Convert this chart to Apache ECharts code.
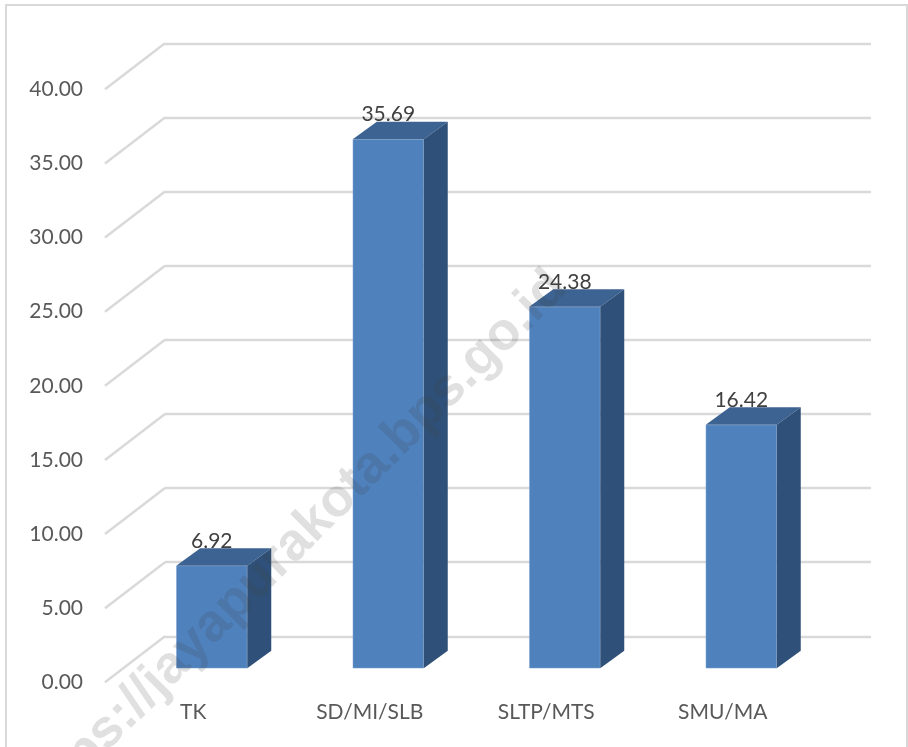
<!DOCTYPE html>
<html><head><meta charset="utf-8">
<style>html,body{margin:0;padding:0;background:#fff}#c{width:908px;height:747px}</style>
<script src="https://cdn.jsdelivr.net/npm/echarts@6/dist/echarts.min.js"></script>
</head><body><div id="c"></div>
<script>
const categories = ['TK', 'SD/MI/SLB', 'SLTP/MTS', 'SMU/MA'];
const values = [6.92, 35.69, 24.38, 16.42];
const yTicks = [0, 5, 10, 15, 20, 25, 30, 35, 40];
const watermark = 'https://jayapurakota.bps.go.id';

const FONT = 'Lato, "Open Sans", sans-serif';
const GRID = '#d9d9d9';
const chart = echarts.init(document.getElementById('c'), null, {renderer: 'canvas'});
const plain = {axisLine: {show: false}, axisTick: {show: false}, axisLabel: {show: false}, splitLine: {show: false}};
const yScale = {type: 'value', min: 0, max: 40, interval: 5};
const BAR_W = 71, DX = 24, DY = 17.5;

chart.setOption({
  animation: false,
  backgroundColor: '#fff',
  grid: [
    {left: 105, width: 706, top: 89.3, height: 593},   // front plane: axis labels
    {left: 165, width: 706, top: 43.3, height: 593},   // back plane: gridlines
    {left: 123.5, width: 706, top: 75.3, height: 593}  // bar plane
  ],
  xAxis: [
    {gridIndex: 0, type: 'category', data: categories, ...plain,
      axisLabel: {show: true, color: '#595959', fontFamily: FONT, fontSize: 21, margin: 19}},
    {gridIndex: 1, type: 'category', data: categories, ...plain},
    {gridIndex: 2, type: 'category', data: categories, ...plain}
  ],
  yAxis: [
    {gridIndex: 0, ...yScale, ...plain,
      axisLabel: {show: true, color: '#595959', fontFamily: FONT, fontSize: 21, margin: 22,
        formatter: v => v.toFixed(2)}},
    {gridIndex: 1, ...yScale, ...plain, splitLine: {show: true, lineStyle: {color: GRID, width: 2.4}}},
    {gridIndex: 2, ...yScale, ...plain}
  ],
  series: [
    {
      type: 'custom', xAxisIndex: 0, yAxisIndex: 0, z: 1, silent: true,
      data: yTicks.map(v => [0, v]),
      renderItem(params, api) {
        const y = api.coord([0, api.value(1)])[1];
        const x = params.coordSys.x;
        return {type: 'line', shape: {x1: x, y1: y, x2: x + 60, y2: y - 46},
          style: {stroke: GRID, lineWidth: 2.4, fill: null}};
      }
    },
    {
      type: 'bar', xAxisIndex: 2, yAxisIndex: 2, z: 2, barWidth: BAR_W,
      data: values,
      itemStyle: {color: '#4f81bd', borderColor: '#7ba0d0', borderWidth: 0.5},
      label: {show: true, position: 'top', distance: 14, color: '#404040', fontFamily: FONT, fontSize: 21,
        formatter: p => p.value.toFixed(2)}
    },
    {
      type: 'custom', xAxisIndex: 2, yAxisIndex: 2, z: 3, silent: true,
      data: values.map((v, i) => [i, v]),
      renderItem(params, api) {
        const top = api.coord([api.value(0), api.value(1)]);
        const base = api.coord([api.value(0), 0]);
        const l = top[0] - BAR_W / 2, r = top[0] + BAR_W / 2, t = top[1], b = base[1];
        return {type: 'group', children: [
          {type: 'polygon', shape: {points: [[l, t], [r, t], [r + DX, t - DY], [l + DX, t - DY]]},
            style: {fill: '#3c6391'}},
          {type: 'polygon', shape: {points: [[r, t], [r + DX, t - DY], [r + DX, b - DY], [r, b]]},
            style: {fill: '#2f5179'}}
        ]};
      }
    }
  ],
  graphic: [
    {type: 'rect', z: 0, silent: true, shape: {x: 6, y: 5, width: 901, height: 760},
      style: {fill: null, stroke: GRID, lineWidth: 2}},
    {type: 'text', z: 50, silent: true, x: 292, y: 546, rotation: Math.PI / 4, originX: 0, originY: 0,
      style: {text: watermark, fill: 'rgba(60,60,60,0.16)', font: 'bold 53px "Liberation Sans"',
        align: 'center', verticalAlign: 'middle'}}
  ]
});
</script></body></html>
